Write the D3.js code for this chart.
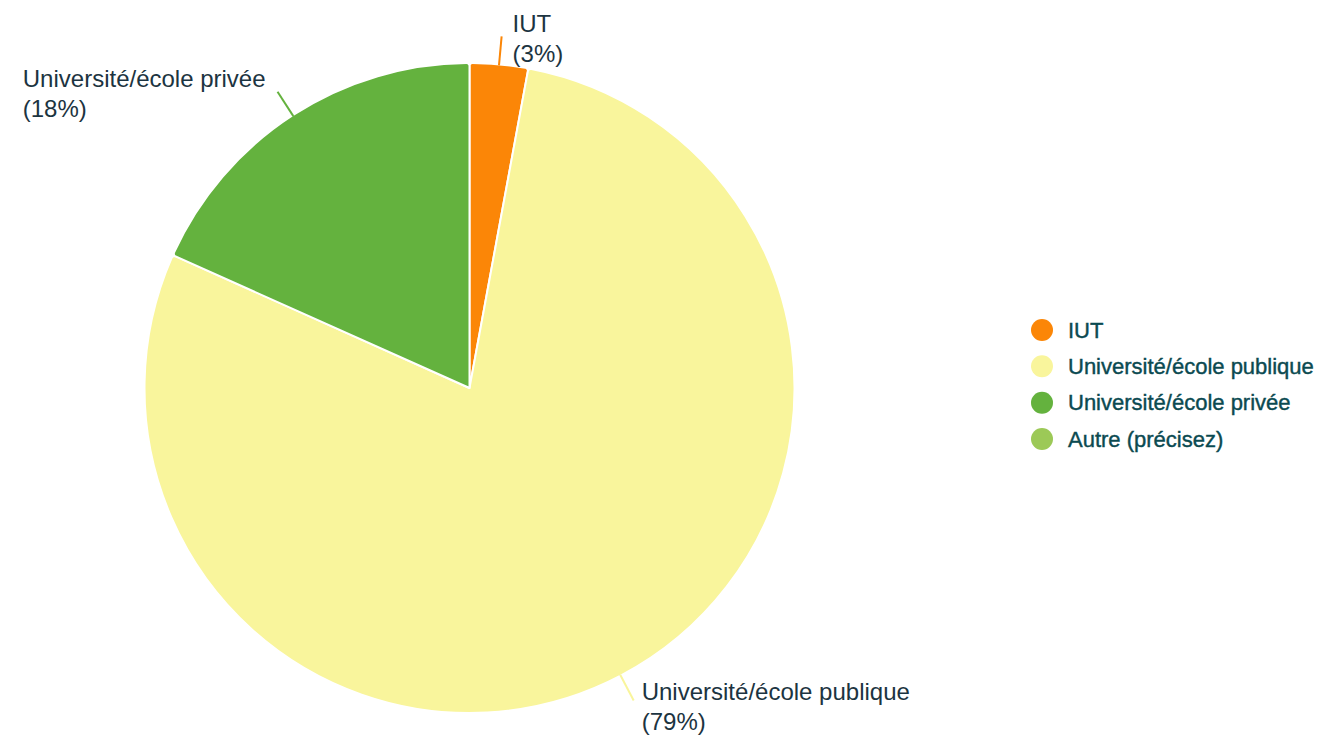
<!DOCTYPE html>
<html>
<head>
<meta charset="utf-8">
<script src="https://cdn.jsdelivr.net/npm/d3@7"></script>
<style>
  body { margin: 0; background: #fff; }
  text { font-family: "Liberation Sans", Arial, sans-serif; }
</style>
</head>
<body>
<div id="chart"></div>
<script>
var categories = ["IUT", "Université/école publique", "Université/école privée", "Autre (précisez)"];
var values = [2.9, 78.8, 18.3, 0];
var colors = ["#fb8607", "#f9f59c", "#64b23e", "#9cc957"];

var width = 1344, height = 748;
var cx = 469.5, cy = 388, radius = 325;

var svg = d3.select("#chart").append("svg")
    .attr("width", width)
    .attr("height", height);

var data = categories.map(function (c, i) {
    return { name: c, value: values[i], color: colors[i] };
});
var total = d3.sum(values);

var pie = d3.pie()
    .sort(null)
    .value(function (d) { return d.value; });

var arc = d3.arc()
    .innerRadius(0)
    .outerRadius(radius)
    .cornerRadius(3);

var arcs = pie(data).filter(function (d) { return d.data.value > 0; });

var g = svg.append("g")
    .attr("transform", "translate(" + cx + "," + cy + ")");

g.selectAll("path.slice")
    .data(arcs)
    .enter().append("path")
    .attr("class", "slice")
    .attr("d", arc)
    .attr("fill", function (d) { return d.data.color; })
    .attr("stroke", "#fff")
    .attr("stroke-width", 2)
    .attr("stroke-linejoin", "round");

// leader lines + labels
function pointAt(a, r) {
    return [Math.sin(a) * r, -Math.cos(a) * r];
}

arcs.forEach(function (d) {
    var mid = (d.startAngle + d.endAngle) / 2;
    var p0 = pointAt(mid, radius - 1);
    var p1 = pointAt(mid, radius + 28);
    g.append("line")
        .attr("x1", p0[0]).attr("y1", p0[1])
        .attr("x2", p1[0]).attr("y2", p1[1])
        .attr("stroke", d.data.color)
        .attr("stroke-width", 2);

    var right = p1[0] >= 0;
    var ty = p1[1] + (p1[1] > 0 ? 6 : 2);
    var t = g.append("text")
        .attr("font-size", 24)
        .attr("fill", "#1c3441");
    var l1 = t.append("tspan")
        .attr("y", ty - 15)
        .attr("dominant-baseline", "central")
        .text(d.data.name);
    var l2 = t.append("tspan")
        .attr("y", ty + 15)
        .attr("dominant-baseline", "central")
        .text("(" + Math.round(d.data.value / total * 100) + "%)");
    var tx;
    if (right) {
        tx = p1[0] + (p1[1] > 0 ? 8 : 11);
    } else {
        var w = Math.max(l1.node().getComputedTextLength(), l2.node().getComputedTextLength());
        tx = p1[0] - 12 - w;
    }
    l1.attr("x", tx);
    l2.attr("x", tx);
});

// legend
var legendY = d3.scalePoint()
    .domain(categories)
    .range([330, 439]);

var legend = svg.append("g").attr("class", "legend");
var item = legend.selectAll("g")
    .data(data)
    .enter().append("g")
    .attr("transform", function (d) { return "translate(1042," + legendY(d.name) + ")"; });

item.append("circle")
    .attr("r", 11)
    .attr("fill", function (d) { return d.color; });

item.append("text")
    .attr("x", 26)
    .attr("dominant-baseline", "central")
    .attr("font-size", 22)
    .attr("fill", "#0b4a51")
    .attr("stroke", "#0b4a51")
    .attr("stroke-width", 0.4)
    .text(function (d) { return d.name; });
</script>
</body>
</html>
